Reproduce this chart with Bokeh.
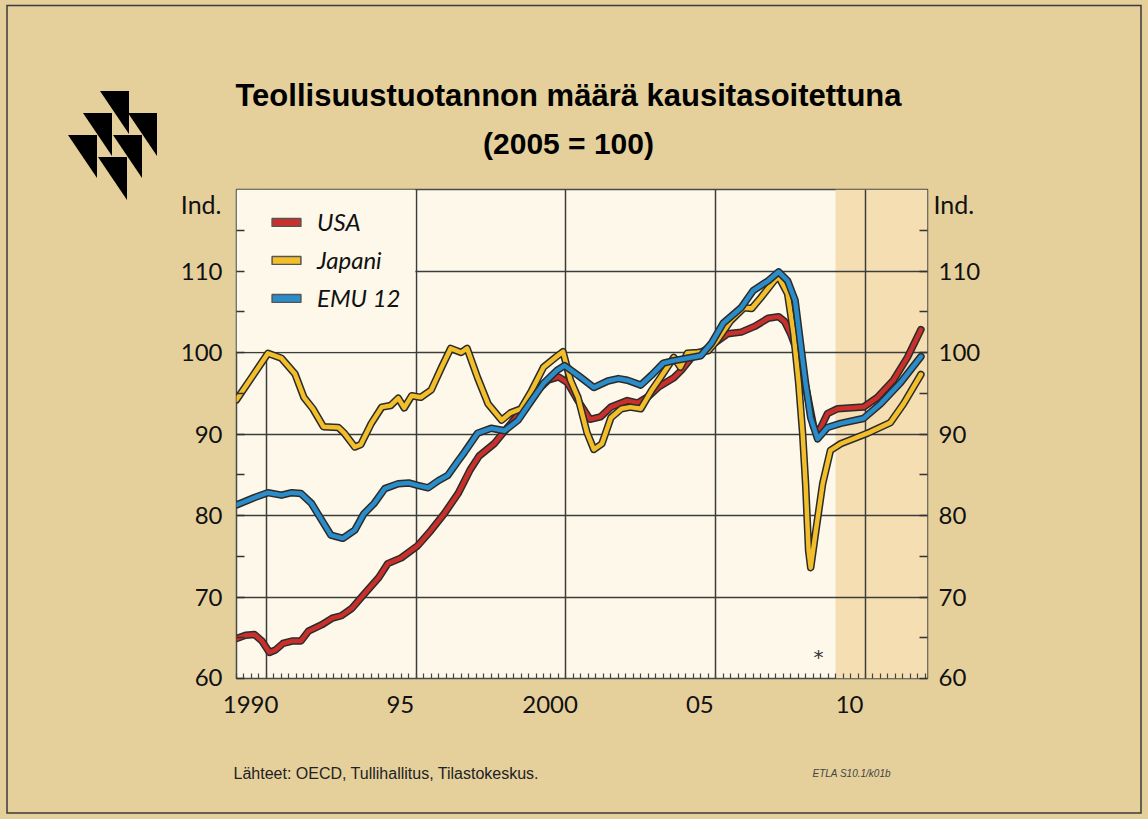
from urllib.parse import quote
from bokeh.plotting import figure
from bokeh.models import (Range1d, LinearAxis, FixedTicker, Grid, BoxAnnotation,
                          Label, Legend, LegendItem)
from bokeh.embed import file_html
from bokeh.resources import INLINE

# ---------------- data ----------------
usa_x = [1990.0, 1990.3, 1990.6, 1990.85, 1991.1, 1991.3, 1991.55, 1991.85, 1992.15, 1992.4,
         1992.85, 1993.2, 1993.5, 1993.85, 1994.25, 1994.75, 1995.05, 1995.5, 1996.05, 1996.5,
         1996.95, 1997.4, 1997.8, 1998.1, 1998.6, 1999.05, 1999.5, 1999.95, 2000.4, 2000.75,
         2001.05, 2001.35, 2001.8, 2002.15, 2002.5, 2003.05, 2003.4, 2003.75, 2004.1, 2004.6,
         2004.85, 2005.2, 2005.6, 2005.95, 2006.4, 2006.85, 2007.3, 2007.75, 2008.1, 2008.3,
         2008.5, 2008.8, 2009.05, 2009.27, 2009.43, 2009.73, 2010.07, 2010.93, 2011.4, 2011.93,
         2012.4, 2012.85]
usa = [64.9, 65.3, 65.4, 64.6, 63.2, 63.5, 64.3, 64.6, 64.6, 65.8,
       66.6, 67.4, 67.7, 68.6, 70.3, 72.4, 74.1, 74.8, 76.3, 78.2,
       80.3, 82.7, 85.6, 87.3, 88.8, 90.8, 92.8, 95.0, 96.6, 97.0,
       96.3, 94.4, 91.8, 92.1, 93.3, 94.1, 93.8, 94.6, 95.8, 96.9,
       97.8, 99.4, 100.2, 101.1, 102.3, 102.5, 103.2, 104.2, 104.4, 103.8,
       102.3, 99.3, 95.0, 90.9, 90.2, 92.5, 93.1, 93.3, 94.5, 96.6,
       99.4, 102.8]

japan_x = [1990.0, 1990.5, 1991.05, 1991.5, 1991.95, 1992.25, 1992.55, 1992.9, 1993.4, 1993.6,
           1993.95, 1994.15, 1994.5, 1994.85, 1995.15, 1995.4, 1995.6, 1995.85, 1996.15, 1996.5,
           1996.85, 1997.15, 1997.5, 1997.7, 1998.05, 1998.4, 1998.85, 1999.15, 1999.5, 1999.85,
           2000.25, 2000.65, 2000.9, 2001.15, 2001.4, 2001.7, 2001.93, 2002.2, 2002.5, 2002.85,
           2003.15, 2003.5, 2003.85, 2004.15, 2004.6, 2004.82, 2005.05, 2005.4, 2005.75, 2006.05,
           2006.5, 2006.95, 2007.2, 2007.5, 2007.95, 2008.1, 2008.4, 2008.6, 2008.77, 2008.9,
           2009.0, 2009.1, 2009.17, 2009.33, 2009.57, 2009.83, 2010.17, 2011.07, 2011.83, 2012.27,
           2012.85]
japan = [94.2, 96.9, 99.9, 99.3, 97.4, 94.5, 93.1, 90.9, 90.8, 90.1,
         88.4, 88.7, 91.3, 93.3, 93.5, 94.4, 93.2, 94.7, 94.5, 95.4,
         98.2, 100.5, 100.0, 100.5, 96.9, 93.7, 91.7, 92.6, 93.1, 95.3,
         98.2, 99.4, 100.1, 96.6, 94.5, 90.2, 88.1, 88.8, 92.0, 93.1,
         93.3, 93.1, 95.3, 96.9, 99.4, 98.2, 99.9, 100.0, 100.2, 101.5,
         103.9, 105.5, 105.4, 106.7, 108.8, 109.3, 107.2, 102.3, 96.2, 90.1,
         83.9, 75.7, 73.6, 77.8, 83.9, 88.0, 88.8, 90.1, 91.4, 93.7,
         97.3]

emu_x = [1990.0, 1990.2, 1990.6, 1991.05, 1991.5, 1991.85, 1992.15, 1992.5, 1992.85, 1993.15,
         1993.55, 1993.95, 1994.25, 1994.6, 1994.95, 1995.4, 1995.75, 1996.05, 1996.4, 1996.75,
         1997.05, 1997.4, 1997.6, 1998.05, 1998.5, 1998.95, 1999.4, 1999.85, 2000.25, 2000.7,
         2000.95, 2001.4, 2001.93, 2002.4, 2002.75, 2003.05, 2003.5, 2003.85, 2004.25, 2004.6,
         2005.05, 2005.5, 2005.85, 2006.25, 2006.85, 2007.25, 2007.75, 2008.1, 2008.4, 2008.65,
         2008.83, 2009.0, 2009.17, 2009.4, 2009.73, 2010.17, 2010.93, 2011.5, 2012.17, 2012.85]
emu = [81.3, 81.6, 82.2, 82.8, 82.5, 82.8, 82.7, 81.5, 79.4, 77.6,
       77.2, 78.2, 80.2, 81.5, 83.3, 83.9, 84.0, 83.7, 83.4, 84.3,
       84.9, 86.7, 87.7, 90.1, 90.7, 90.4, 91.7, 94.1, 96.2, 97.8,
       98.4, 97.2, 95.7, 96.5, 96.8, 96.6, 96.0, 97.2, 98.7, 99.0,
       99.3, 99.6, 101.1, 103.6, 105.5, 107.6, 108.8, 109.9, 108.8, 106.4,
       101.1, 96.2, 92.0, 89.4, 90.8, 91.3, 91.9, 93.7, 96.3, 99.5]

series_names = ["USA", "Japani", "EMU 12"]
y_ticks = [60, 70, 80, 90, 100, 110]
y_minor = [65, 75, 85, 95, 105, 115]
x_label_pos = [1990.47, 1995.47, 2000.47, 2005.47, 2010.47]
x_label_text = ["1990", "95", "2000", "05", "10"]
x_grid = [1991, 1996, 2001, 2006, 2011]
y_grid = [70, 80, 90, 100, 110]
forecast_start = 2010.0

# ---------------- style ----------------
PAGEBG = "#E5D09C"
PLOTBG = "#FDF8E9"
SHADE = "#F5DFB2"
GRID = "#3c3c3c"
RED = "#C9302C"
YEL = "#F2BF2A"
BLU = "#2A8CC8"
OUT = "#2b2b2b"
NUMFONT = "Lato"
NUMSIZE = "24px"
NAN = float("nan")

W, H = 1148, 819
X0, X1 = 1990.0, 2013.07
Y0, Y1 = 60.0, 120.0
FL, FR, FT, FB = 236, 927, 189, 678   # frame edges in page pixels


def dx(px):
    return X0 + (px - FL) * (X1 - X0) / (FR - FL)


def dy(py):
    return Y0 + (FB - py) * (Y1 - Y0) / (FB - FT)


# decorative page background: thin page frame and the triangle logo
tri_x = [100, 83, 128, 68, 113, 98]
tri_y = [91, 113, 113, 135, 135, 157]
svg = ["<svg xmlns='http://www.w3.org/2000/svg' width='%d' height='%d'>" % (W, H),
       "<rect x='7' y='5.5' width='1134' height='807.5' fill='none' stroke='#3a3a3a' "
       "stroke-width='1.5'/>"]
for tx, ty in zip(tri_x, tri_y):
    svg.append("<polygon points='%d,%d %d,%d %d,%d' fill='#000'/>"
               % (tx, ty, tx + 29, ty, tx + 29, ty + 43))
svg.append("</svg>")
bg_uri = "data:image/svg+xml," + quote("".join(svg))

p = figure(width=W, height=H, x_range=Range1d(X0, X1), y_range=Range1d(Y0, Y1),
           x_axis_type=None, y_axis_type=None, output_backend="svg", toolbar_location=None,
           min_border_left=FL, min_border_right=W - FR, min_border_top=FT,
           min_border_bottom=H - FB, background_fill_color=PLOTBG,
           border_fill_color=None, outline_line_color="#4a4a4a", outline_line_width=1.5,
           styles={"background-color": PAGEBG,
                   "background-image": 'url("%s")' % bg_uri,
                   "background-repeat": "no-repeat"})

# forecast shading (below grid)
p.add_layout(BoxAnnotation(left=forecast_start, fill_color=SHADE, fill_alpha=1.0,
                           line_alpha=0, level="underlay"), "center")
# grids
p.add_layout(Grid(dimension=0, ticker=FixedTicker(ticks=x_grid), grid_line_color=GRID,
                  grid_line_width=1.5), "center")
p.add_layout(Grid(dimension=1, ticker=FixedTicker(ticks=y_grid), grid_line_color=GRID,
                  grid_line_width=1.5), "center")
# legend area hides the grid
p.add_layout(BoxAnnotation(left=X0, right=x_grid[1] - 0.03, bottom=y_grid[3] + 0.1,
                           fill_color=PLOTBG, fill_alpha=1.0, line_alpha=0, level="underlay"),
             "center")


def y_axis(standoff):
    return LinearAxis(ticker=FixedTicker(ticks=y_ticks, minor_ticks=y_minor),
                      major_label_overrides={60: ""},
                      axis_line_color=None, major_tick_in=8, major_tick_out=0,
                      minor_tick_in=8, minor_tick_out=0,
                      major_tick_line_color="#333333", minor_tick_line_color="#333333",
                      major_tick_line_width=1.5, minor_tick_line_width=1.5,
                      major_label_standoff=standoff,
                      major_label_text_font=NUMFONT, major_label_text_font_size=NUMSIZE,
                      major_label_text_color="#111111")


p.add_layout(y_axis(14), "left")
p.add_layout(y_axis(11), "right")

quarters = [1990 + q / 4 for q in range(0, 93)]
ax_x = LinearAxis(ticker=FixedTicker(ticks=x_label_pos, minor_ticks=quarters),
                  major_label_overrides={k: v for k, v in zip(x_label_pos, x_label_text)},
                  axis_line_color=None, major_tick_line_color=None,
                  minor_tick_in=5, minor_tick_out=0, minor_tick_line_color="#444444",
                  minor_tick_line_width=1.2, major_label_standoff=11,
                  major_label_text_font=NUMFONT, major_label_text_font_size=NUMSIZE,
                  major_label_text_color="#111111")
p.add_layout(ax_x, "below")

# series lines
for xs, ys, col in [(usa_x, usa, RED), (japan_x, japan, YEL), (emu_x, emu, BLU)]:
    p.line(xs, ys, line_color=OUT, line_width=7.5, line_join="round", line_cap="round")
    p.line(xs, ys, line_color=col, line_width=4.5, line_join="round", line_cap="round")

# legend swatches (NaN quads that only give the legend its glyphs)
sw = [p.quad(left=[NAN], right=[NAN], top=[NAN], bottom=[NAN], fill_color=col,
             line_color="#555555", line_width=1.5) for col in [RED, YEL, BLU]]
legend = Legend(items=[LegendItem(label=n, renderers=[r]) for n, r in zip(series_names, sw)],
                location=(32, 366), orientation="vertical", glyph_width=36, glyph_height=10,
                label_height=25, spacing=9, padding=0, margin=0, label_standoff=13,
                background_fill_alpha=0, border_line_alpha=0,
                label_text_font=NUMFONT, label_text_font_style="italic",
                label_text_font_size=NUMSIZE, label_text_color="#111111")
p.add_layout(legend, "center")


# texts (placed in side panels so that they are not clipped to the frame)
def lab(side, px, py, text, size, align="center", font="Liberation Sans", style="normal",
        color="#111111", baseline="middle"):
    p.add_layout(Label(x=dx(px), y=dy(py), text=text, text_align=align,
                       text_baseline=baseline, text_font=font, text_font_style=style,
                       text_font_size=size, text_color=color), side)


lab("above", 568, 143, "(2005 = 100)", "30px", style="bold", color="#000000")
lab("above", 568, 95, "Teollisuustuotannon määrä kausitasoitettuna", "31px", style="bold",
    color="#000000")
lab("left", 221, 203, "Ind.", "25px", align="right", font=NUMFONT)
lab("right", 933, 203, "Ind.", "25px", align="left", font=NUMFONT)
lab("left", 222, 677, "60", NUMSIZE, align="right", font=NUMFONT, baseline="alphabetic")
lab("right", 938, 677, "60", NUMSIZE, align="left", font=NUMFONT, baseline="alphabetic")
lab("below", 233, 773, "Lähteet:  OECD, Tullihallitus, Tilastokeskus.", "16px", align="left",
    font="Liberation Sans Narrow, Liberation Sans", color="#222222")
lab("below", 812, 773, "ETLA S10.1/k01b", "10px", align="left", style="italic",
    color="#444444")
p.add_layout(Label(x=dx(818), y=dy(656), text="*", text_align="center", text_baseline="middle",
                   text_font="DejaVu Sans", text_font_size="20px", text_color="#333333"))

open("out.html", "w").write(file_html(p, INLINE))
